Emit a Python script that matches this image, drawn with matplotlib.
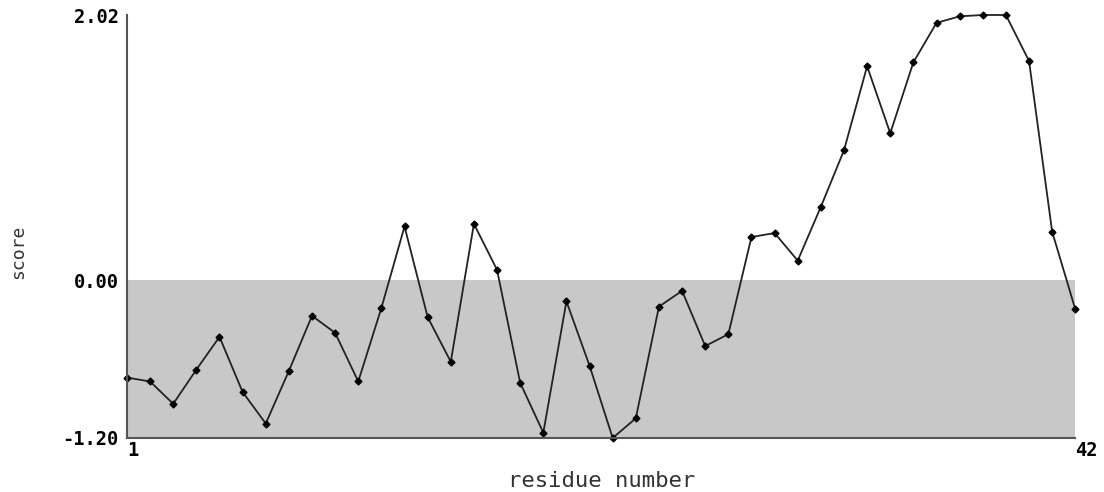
import matplotlib.pyplot as plt

residues = list(range(1, 43))
scores = [-0.74, -0.77, -0.94, -0.68, -0.43, -0.85, -1.09, -0.69, -0.27, -0.40,
          -0.77, -0.21, 0.41, -0.28, -0.62, 0.43, 0.08, -0.78, -1.16, -0.16,
          -0.65, -1.20, -1.05, -0.20, -0.08, -0.50, -0.41, 0.33, 0.36, 0.15,
          0.56, 0.99, 1.63, 1.12, 1.66, 1.96, 2.01, 2.02, 2.02, 1.67,
          0.37, -0.22]
y_ticks = [-1.20, 0.00, 2.02]
x_ticks = [1, 42]

fig = plt.figure(figsize=(11.04, 4.92), dpi=100)
ax = fig.add_axes([0.115, 0.1098, 0.859, 0.8597])

ymin, ymax = min(y_ticks), max(y_ticks)
ax.set_xlim(residues[0], residues[-1])
ax.set_ylim(ymin, ymax)

# shaded band below zero
ax.fill_between([residues[0], residues[-1]], ymin, 0, color='#c8c8c8', lw=0, zorder=1)

ax.plot(residues, scores, color='#222222', lw=1.3, marker='D', markersize=3.5,
        markerfacecolor='black', markeredgecolor='black', zorder=3, clip_on=False)

for side in ['top', 'right']:
    ax.spines[side].set_visible(False)
for side in ['left', 'bottom']:
    ax.spines[side].set_color('#555555')
    ax.spines[side].set_linewidth(1.5)
    ax.spines[side].set_zorder(4)

ax.set_yticks(y_ticks)
ax.set_yticklabels(['%.2f' % v for v in y_ticks], fontfamily='DejaVu Sans Mono',
                   fontweight='bold', fontsize=13.5)
ax.set_xticks(x_ticks)
ax.set_xticklabels([str(v) for v in x_ticks], fontfamily='DejaVu Sans Mono',
                   fontweight='bold', fontsize=13.5, ha='left')
ax.tick_params(axis='both', length=0)
ax.tick_params(axis='y', pad=6)
ax.tick_params(axis='x', pad=2)

fig.text(0.0165, 0.488, 'score', rotation=90, ha='center', va='center',
         fontfamily='DejaVu Sans Mono', fontsize=13, color='#333333')
fig.text(0.545, 0.022, 'residue number', ha='center', va='center',
         fontfamily='DejaVu Sans Mono', fontsize=16, color='#333333')

plt.savefig('out.png', dpi=100)
